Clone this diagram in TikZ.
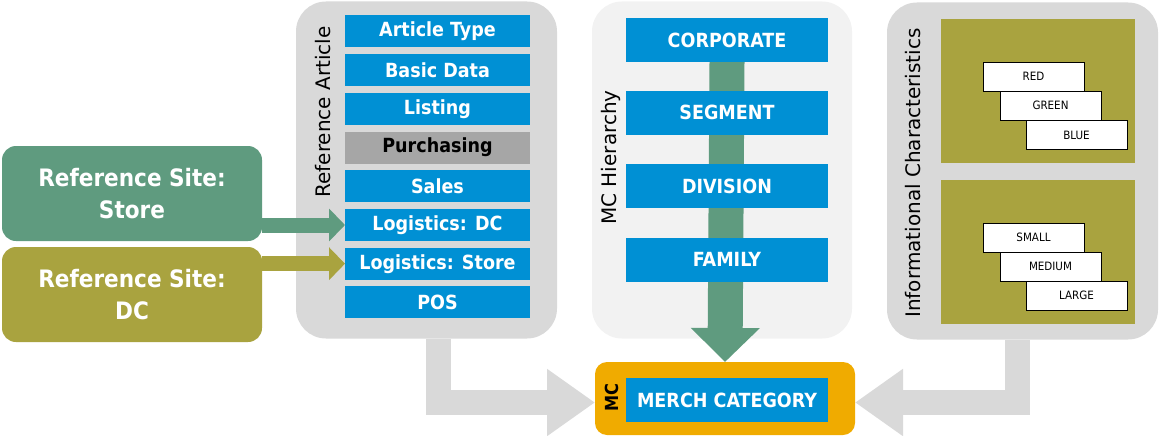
\documentclass[tikz,border=0pt]{standalone}
\usepackage{fontspec}
\setmainfont{DejaVu Sans Condensed}
\newfontfamily\labelfont{DejaVu Sans}
\usetikzlibrary{arrows.meta,positioning}
\definecolor{barblue}{HTML}{0090D4}
\definecolor{panelgray}{HTML}{D9D9D9}
\definecolor{panellight}{HTML}{F2F2F2}
\definecolor{sitegreen}{HTML}{5F9B7F}
\definecolor{siteolive}{HTML}{A9A33F}
\definecolor{mcorange}{HTML}{F0AB00}
\definecolor{purchgray}{HTML}{A6A6A6}
\pgfdeclarelayer{back}
\pgfdeclarelayer{mid}
\pgfsetlayers{back,mid,main}

\begin{document}
\begin{tikzpicture}[
x=1pt,
y=-1pt,
every node/.style={inner sep=0pt,outer sep=0pt},
panel/.style={rectangle,rounded corners=30pt,fill=panelgray,minimum height=337pt},
sitebox/.style={rectangle,rounded corners=14pt,minimum width=260pt,minimum height=95pt,align=center,text=white,font=\fontsize{24}{32}\selectfont\bfseries},
artbar/.style={rectangle,fill=barblue,minimum width=185pt,minimum height=32pt,text=white,font=\fontsize{19.5}{20}\selectfont\bfseries},
mcbar/.style={rectangle,fill=barblue,minimum width=202pt,minimum height=44pt,text=white,font=\fontsize{19.5}{24}\selectfont\bfseries},
sidelabel/.style={rotate=90,font=\labelfont\fontsize{20}{22}\selectfont},
charsq/.style={rectangle,fill=siteolive,minimum width=194pt,minimum height=144pt},
charval/.style={rectangle,draw=black,line width=0.8pt,fill=white,minimum width=101pt,minimum height=29pt,font=\fontsize{11.5}{12}\selectfont},
fatarrow/.style={line width=15pt,-{Triangle[length=16pt,width=32pt]}},
grayarrow/.style={draw=panelgray,line width=25pt,line join=miter,-{Triangle[length=48pt,width=64pt]}}
]
\useasboundingbox (0,0) rectangle (1161,436);

% panels
\begin{pgfonlayer}{back}
\node[panel,minimum width=261pt] (refart) at (426.5,170) {};
\node[panel,minimum width=260pt,fill=panellight] (mchier) at (722,170) {};
\node[panel,minimum width=271pt] (info) at (1022.5,171) {};
\end{pgfonlayer}

\node[sitebox,fill=sitegreen] (store) at (132,193.5) {Reference Site:\\Store};
\node[sitebox,fill=siteolive] (dc) at (132,294.5) {Reference Site:\\DC};

% reference article
\node[sidelabel] (reflabel) at (323,112) {Reference Article};
\foreach \name/\txt [count=\i from 0] in {type/Article Type,basic/Basic Data,listing/Listing,purch/Purchasing,sales/Sales,logdc/Logistics: DC,logstore/Logistics: Store,pos/POS}
  \node[artbar] (\name) at (437.5,31.5+38.7*\i) {\txt};
\node[artbar,fill=purchgray,text=black] at (purch) {Purchasing};

% mc hierarchy
\node[sidelabel] (mclabel) at (611,157.5) {MC Hierarchy};
\node[mcbar] (corp) at (727,40) {CORPORATE};
\node[mcbar] (segment) at (727,112.5) {SEGMENT};
\node[mcbar] (division) at (727,186) {DIVISION};
\node[mcbar] (family) at (727,259.5) {FAMILY};

\node[rectangle,rounded corners=12pt,fill=mcorange,minimum width=260pt,minimum height=73pt] (mc) at (725,398.5) {};
\node[mcbar] (merch) at (727,400) {MERCH CATEGORY};
\node[rotate=90,font=\fontsize{18}{20}\selectfont\bfseries] (mctag) at (612,397.5) {MC};

% informational characteristics
\node[sidelabel] (infolabel) at (913,173) {Informational Characteristics};
\node[charsq] (colours) at (1038,91) {};
\node[charsq] (sizes) at (1038,252) {};
\node[charval] (red) at (1033.5,76.5) {RED};
\node[charval] (green) at (1050.5,105.5) {GREEN};
\node[charval] (blue) at (1076.5,135) {BLUE};
\node[charval] (small) at (1033.5,237.5) {SMALL};
\node[charval] (medium) at (1050.5,266.5) {MEDIUM};
\node[charval] (large) at (1076.5,295.5) {LARGE};

% arrows
\begin{pgfonlayer}{mid}
\draw[fatarrow,draw=sitegreen] (store.east |- logdc.west) -- (logdc.west);
\draw[fatarrow,draw=siteolive] (dc.east |- logstore.west) -- (logstore.west);
\draw[draw=sitegreen,line width=35pt,-{Triangle[length=34pt,width=67pt]}] (corp.south) -- (mc.north);
\draw[grayarrow] ([xshift=12pt]refart.south) |- ([yshift=-4pt]mc.west);
\draw[grayarrow] ([xshift=-5pt]info.south) |- ([yshift=-4pt]mc.east);
\end{pgfonlayer}
\end{tikzpicture}
\end{document}
